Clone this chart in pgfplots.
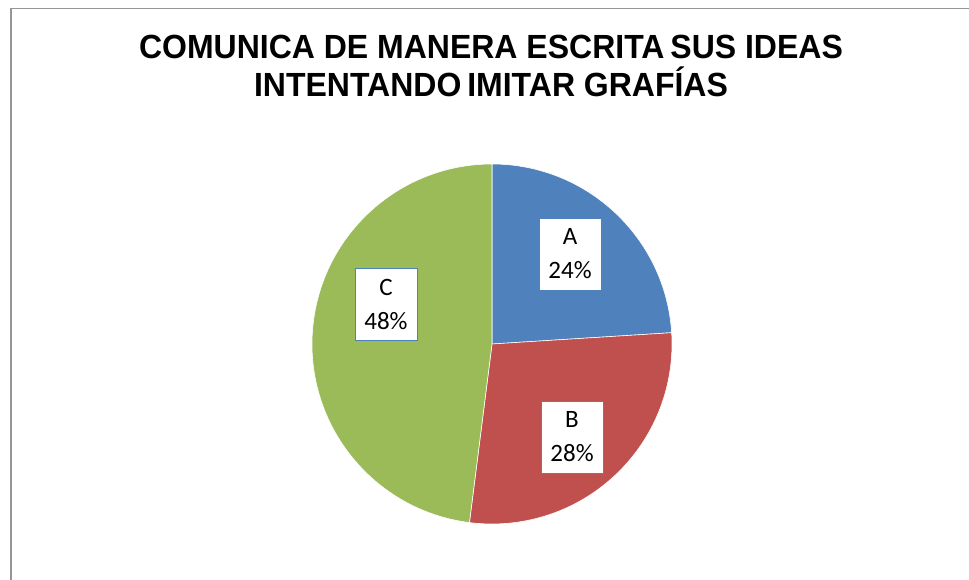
\documentclass[border=0pt]{standalone}
\usepackage{fontspec}
\setmainfont{Liberation Sans}
\newfontfamily\titlefont[FakeStretch=0.955]{Liberation Sans Bold}
\newfontfamily\labelfont{Carlito}
\usepackage{pgfplots}
\usepackage{pgfplotstable}
\pgfplotsset{compat=1.18}
\definecolor{pieA}{HTML}{4F81BD}
\definecolor{pieB}{HTML}{C0504D}
\definecolor{pieC}{HTML}{9BBB59}
\definecolor{frame}{HTML}{969696}
\pgfplotstableread{
label value
A 24
B 28
C 48
}\piedata
\begin{document}
\begin{tikzpicture}
\useasboundingbox (0,0) rectangle (969pt,580pt);
\pgfplotstablegetelem{0}{value}\of\piedata \let\va\pgfplotsretval
\pgfplotstablegetelem{1}{value}\of\piedata \let\vb\pgfplotsretval
\pgfplotstablegetelem{2}{value}\of\piedata \let\vc\pgfplotsretval
\pgfmathsetmacro\aA{90}
\pgfmathsetmacro\aB{\aA-3.6*\va}
\pgfmathsetmacro\aC{\aB-3.6*\vb}
\pgfmathsetmacro\aD{\aC-3.6*\vc}
\begin{axis}[
  at={(0,0)}, anchor=origin,
  scale only axis, width=969pt, height=580pt,
  xmin=0, xmax=969, ymin=0, ymax=580,
  hide axis, clip=false,
]
% frame
\draw[frame, line width=1.6pt] (10.8,0) -- (10.8,571.5) -- (969,571.5);
% slices
\filldraw[fill=pieA, draw=white, line width=0.6pt] (492,236) -- ++(\aA:180pt) arc[start angle=\aA, end angle=\aB, radius=180pt] -- cycle;
\filldraw[fill=pieB, draw=white, line width=0.6pt] (492,236) -- ++(\aB:180pt) arc[start angle=\aB, end angle=\aC, radius=180pt] -- cycle;
\filldraw[fill=pieC, draw=white, line width=0.6pt] (492,236) -- ++(\aC:180pt) arc[start angle=\aC, end angle=\aD, radius=180pt] -- cycle;
% labels
\tikzset{lbl/.style={fill=white, draw=pieA, line width=0.9pt, minimum width=62pt, minimum height=72pt, inner sep=0pt, align=center, font=\labelfont\fontsize{25}{34}\selectfont}}
\node[lbl] at (570,326) {A\\\va\%};
\node[lbl] at (572,143) {B\\\vb\%};
\node[lbl] at (386,275.5) {C\\\vc\%};
% title
\node[anchor=base, font=\titlefont\fontsize{33.5}{38}\selectfont] at (491,521) {COMUNICA DE MANERA ESCRITA\kern-3pt\ SUS IDEAS};
\node[anchor=base, font=\titlefont\fontsize{33.5}{38}\selectfont] at (491,483) {INTENTANDO\kern-3pt\ IMITAR GRAFÍAS};
\end{axis}
\end{tikzpicture}
\end{document}
